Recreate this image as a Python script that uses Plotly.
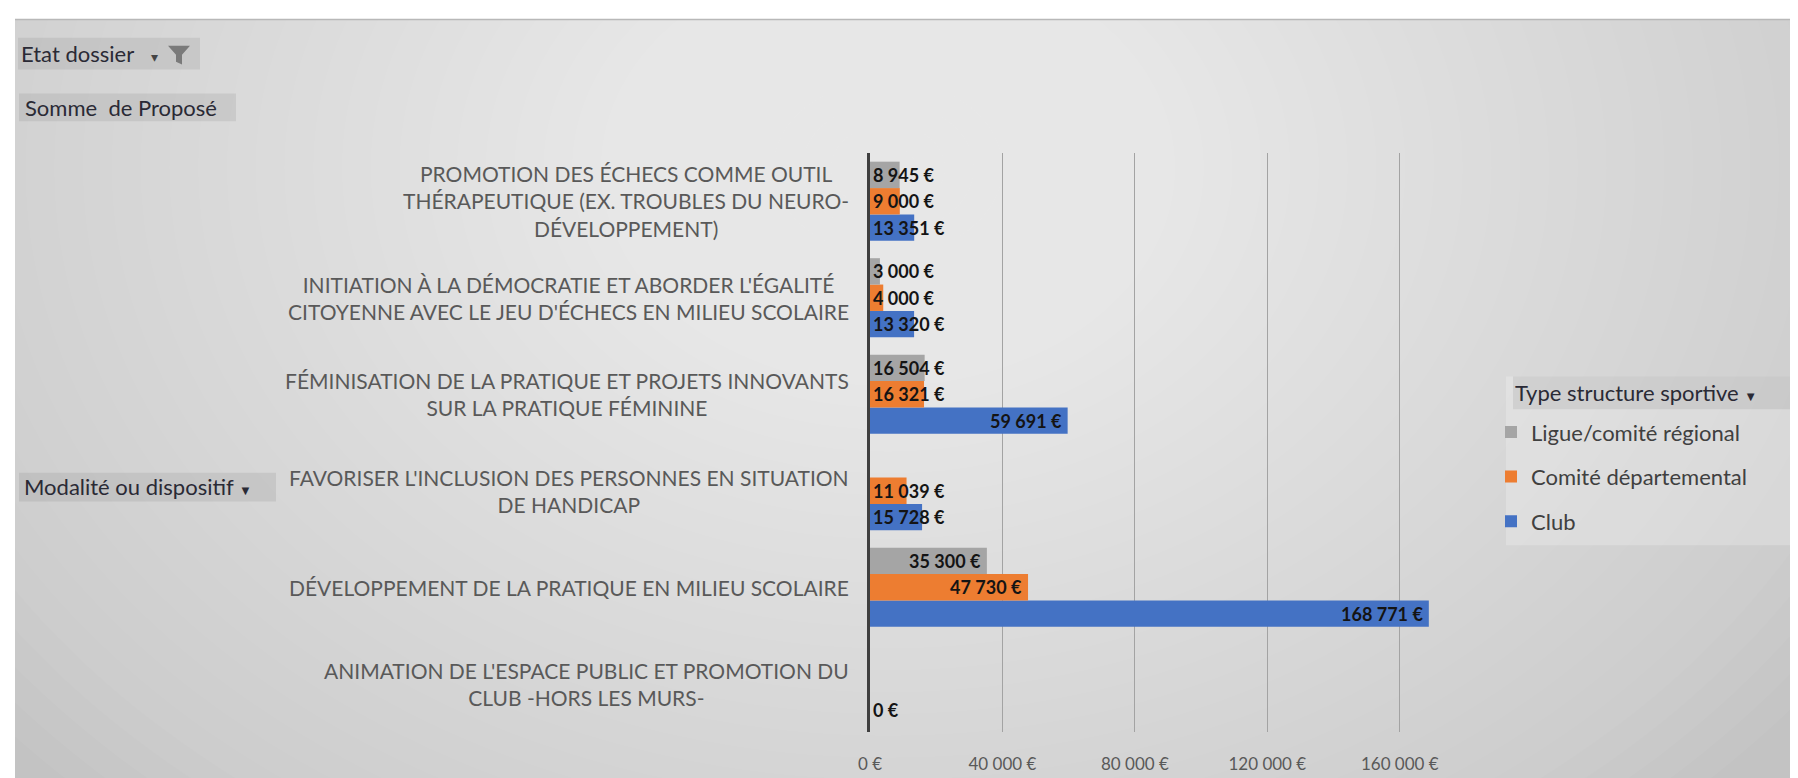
import plotly.graph_objects as go

# ---------------- data ----------------
categories = [
    "ANIMATION DE L'ESPACE PUBLIC ET PROMOTION DU CLUB -HORS LES MURS-",
    "DÉVELOPPEMENT DE LA PRATIQUE EN MILIEU SCOLAIRE",
    "FAVORISER L'INCLUSION DES PERSONNES EN SITUATION DE HANDICAP",
    "FÉMINISATION DE LA PRATIQUE ET PROJETS INNOVANTS SUR LA PRATIQUE FÉMININE",
    "INITIATION À LA DÉMOCRATIE ET ABORDER L'ÉGALITÉ CITOYENNE AVEC LE JEU D'ÉCHECS EN MILIEU SCOLAIRE",
    "PROMOTION DES ÉCHECS COMME OUTIL THÉRAPEUTIQUE (EX. TROUBLES DU NEURO-DÉVELOPPEMENT)",
]
category_labels = [
    "ANIMATION DE L'ESPACE PUBLIC ET PROMOTION DU<br>CLUB -HORS LES MURS-",
    "DÉVELOPPEMENT DE LA PRATIQUE EN MILIEU SCOLAIRE",
    "FAVORISER L'INCLUSION DES PERSONNES EN SITUATION<br>DE HANDICAP",
    "FÉMINISATION DE LA PRATIQUE ET PROJETS INNOVANTS<br>SUR LA PRATIQUE FÉMININE",
    "INITIATION À LA DÉMOCRATIE ET ABORDER L'ÉGALITÉ<br>CITOYENNE AVEC LE JEU D'ÉCHECS EN MILIEU SCOLAIRE",
    "PROMOTION DES ÉCHECS COMME OUTIL<br>THÉRAPEUTIQUE (EX. TROUBLES DU NEURO-<br>DÉVELOPPEMENT)",
]
club = [0, 168771, 15728, 59691, 13320, 13351]
comite_departemental = [None, 47730, 11039, 16321, 4000, 9000]
ligue_comite_regional = [None, 35300, None, 16504, 3000, 8945]

series_names = ["Club", "Comité départemental", "Ligue/comité régional"]
series_values = [club, comite_departemental, ligue_comite_regional]
series_colors = ["#4472C4", "#ED7D31", "#A5A5A5"]
legend_ranks = [3, 2, 1]

tick_values = [0, 40000, 80000, 120000, 160000]
tick_labels = ["0 €", "40 000 €", "80 000 €", "120 000 €", "160 000 €"]

# ---------------- layout geometry (pixels) ----------------
W, H = 1798, 778
PLOT_L, PLOT_R, PLOT_T, PLOT_B = 862, 1458, 145, 728
PW, PH = PLOT_R - PLOT_L, PLOT_B - PLOT_T
X_MAX = 180000
BARGAP = 0.18
FONT = "Lato, 'Open Sans', sans-serif"


def px(x):
    return (x - PLOT_L) / PW


def py(y):
    return (PLOT_B - y) / PH


def euro(v):
    return f"{v:,}".replace(",", " ") + " €"


fig = go.Figure()
for name, vals, col, rk in zip(series_names, series_values, series_colors, legend_ranks):
    fig.add_trace(go.Bar(
        y=categories, x=vals, name=name, orientation="h",
        marker=dict(color=col, line=dict(width=0)),
        legendgroup=name, legendrank=rk, hoverinfo="x+name",
    ))

shapes = []
annotations = []

# background: white page, gray chart area with a soft radial light
shapes.append(dict(type="rect", xref="paper", yref="paper", layer="below",
                   x0=px(7), x1=px(W + 5), y0=py(10), y1=py(H + 5),
                   fillcolor="#c3c3c3", line=dict(width=0)))
N = 40
cx, cy, rx, ry = 880, 160, 1150, 880
for k in range(N, 0, -1):
    f = k / N
    shapes.append(dict(type="circle", xref="paper", yref="paper", layer="below",
                       x0=px(cx - rx * f), x1=px(cx + rx * f),
                       y0=py(cy + ry * f), y1=py(cy - ry * f),
                       fillcolor="rgba(255,255,255,0.038)", line=dict(width=0)))
# white page strips (top and left)
shapes.append(dict(type="rect", xref="paper", yref="paper", layer="below",
                   x0=px(-10), x1=px(W + 10), y0=py(10), y1=py(-10),
                   fillcolor="white", line=dict(width=0)))
shapes.append(dict(type="rect", xref="paper", yref="paper", layer="below",
                   x0=px(-10), x1=px(7), y0=py(H + 10), y1=py(-10),
                   fillcolor="white", line=dict(width=0)))
shapes.append(dict(type="line", xref="paper", yref="paper", layer="below",
                   x0=px(7), x1=px(W), y0=py(10.5), y1=py(10.5),
                   line=dict(color="#b8b8b8", width=1.5)))

# pivot field buttons
BTN = "rgba(0,0,0,0.07)"
TXT = "#2a2a35"
for (x0, y0, x1, y1) in [(10, 29, 192, 61), (11, 85, 228, 113), (11, 467, 268, 496)]:
    shapes.append(dict(type="rect", xref="paper", yref="paper", layer="below",
                       x0=px(x0), x1=px(x1), y0=py(y1), y1=py(y0),
                       fillcolor=BTN, line=dict(width=0)))
annotations.append(dict(text="Etat dossier", xref="paper", yref="paper", x=px(11), y=py(45),
                        xanchor="left", yanchor="middle", showarrow=False,
                        font=dict(family=FONT, size=22, color=TXT)))
annotations.append(dict(text="▾", xref="paper", yref="paper", x=px(141), y=py(48),
                        xanchor="left", yanchor="middle", showarrow=False,
                        font=dict(family="DejaVu Sans", size=14, color="#444")))
shapes.append(dict(type="path", xref="paper", yref="paper", layer="above",
                   path=(f"M {px(160)},{py(37)} L {px(182)},{py(37)} L {px(174)},{py(46)} "
                         f"L {px(174)},{py(56)} L {px(168)},{py(53)} L {px(168)},{py(46)} Z"),
                   fillcolor="#7a7a7a", line=dict(width=0)))
annotations.append(dict(text="Somme  de Proposé", xref="paper", yref="paper", x=px(15), y=py(99),
                        xanchor="left", yanchor="middle", showarrow=False,
                        font=dict(family=FONT, size=22, color=TXT)))
annotations.append(dict(text="Modalité ou dispositif <span style='font-size:13px'>▼</span>",
                        xref="paper", yref="paper", x=px(14), y=py(481),
                        xanchor="left", yanchor="middle", showarrow=False,
                        font=dict(family=FONT, size=22, color=TXT)))

# legend header button and box
shapes.append(dict(type="rect", xref="paper", yref="paper", layer="below",
                   x0=px(1498), x1=px(W), y0=py(540), y1=py(370),
                   fillcolor="rgba(255,255,255,0.22)", line=dict(width=0)))
shapes.append(dict(type="rect", xref="paper", yref="paper", layer="below",
                   x0=px(1505), x1=px(W - 2), y0=py(403), y1=py(370),
                   fillcolor=BTN, line=dict(width=0)))
annotations.append(dict(text="Type structure sportive <span style='font-size:13px'>▼</span>",
                        xref="paper", yref="paper", x=px(1505), y=py(386),
                        xanchor="left", yanchor="middle", showarrow=False,
                        font=dict(family=FONT, size=22, color=TXT)))

# category labels (centred multi-line, like Excel)
for cat, lab in zip(categories, category_labels):
    annotations.append(dict(text=lab, xref="paper", yref="y", x=0, y=cat,
                            xanchor="right", yanchor="middle", xshift=-19, align="center",
                            showarrow=False,
                            font=dict(family=FONT, size=21, color="#595959")))

# data labels (inside end when they fit, otherwise starting at the axis)
slot = PH / len(categories) * (1 - BARGAP) / len(series_names)
for i, vals in enumerate(series_values):
    offset = (i - 1) * slot
    for cat, v in zip(categories, vals):
        if v is None:
            continue
        txt = euro(v)
        bar_px = v * PW / X_MAX
        fits = bar_px > len(txt) * 9.5 + 12
        annotations.append(dict(
            text=f"<b>{txt}</b>", xref="x", yref="y", x=v if fits else 0, y=cat,
            xanchor="right" if fits else "left", yanchor="middle",
            xshift=-4 if fits else 1, yshift=offset, showarrow=False,
            font=dict(family=FONT, size=18, color="#141414")))

fig.update_layout(
    width=W, height=H,
    margin=dict(l=PLOT_L, r=W - PLOT_R, t=PLOT_T, b=H - PLOT_B, pad=0),
    paper_bgcolor="white", plot_bgcolor="rgba(0,0,0,0)",
    barmode="group", bargap=BARGAP, bargroupgap=0,
    font=dict(family=FONT, color="#595959"),
    shapes=shapes, annotations=annotations,
    showlegend=True,
    legend=dict(x=px(1483), y=py(405), xanchor="left", yanchor="top",
                traceorder="grouped", tracegroupgap=13,
                bgcolor="rgba(0,0,0,0)", borderwidth=0,
                font=dict(family=FONT, size=22, color="#404040"),
                itemclick=False, itemdoubleclick=False),
    xaxis=dict(range=[0, X_MAX], tickvals=tick_values, ticktext=tick_labels,
               showgrid=True, gridcolor="#a3a3a3", gridwidth=1, zeroline=False,
               showline=False, ticks="", ticklabelstandoff=20,
               tickfont=dict(family=FONT, size=17, color="#595959"), fixedrange=True),
    yaxis=dict(categoryorder="array", categoryarray=categories, showticklabels=False,
               showgrid=False, zeroline=False, showline=True, linecolor="#3f3f3f",
               linewidth=3, ticks="", fixedrange=True),
)

fig.write_html("out.html")
